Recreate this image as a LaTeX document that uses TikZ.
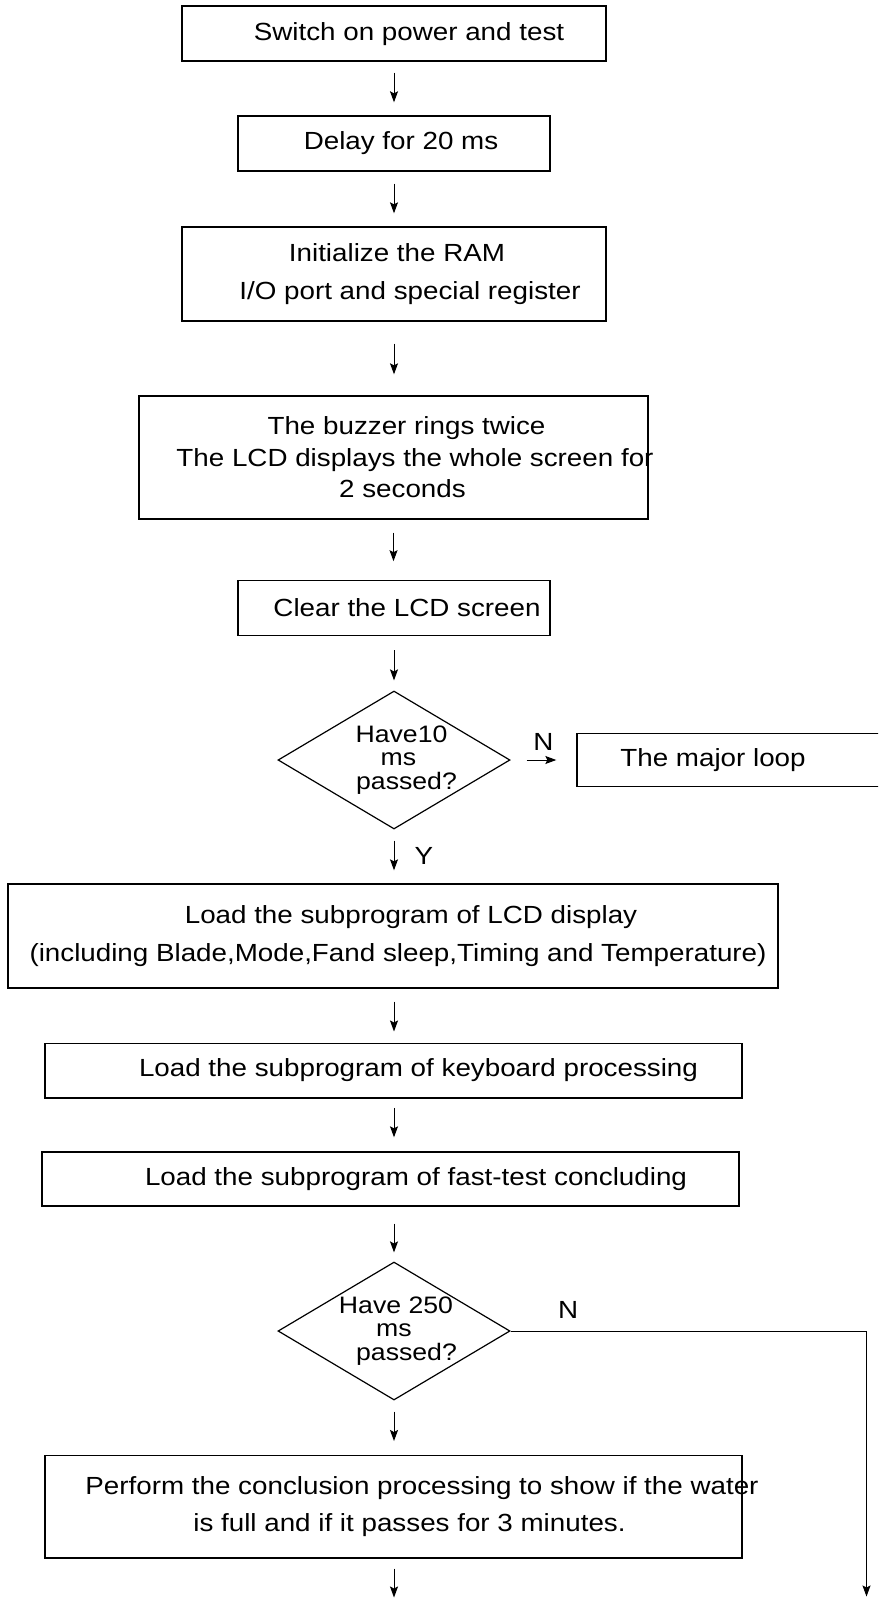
\documentclass[tikz,border=0pt]{standalone}
\usepackage{fontspec}
\setmainfont{Liberation Sans}[FakeStretch=1.12]
\usepackage{tikz}
\usetikzlibrary{arrows.meta,shapes.geometric,positioning}
\tikzstyle{box}   = [draw, line width=0.7pt, align=center, inner xsep=-10pt, inner ysep=2pt, font=\fontsize{12.4}{19}\selectfont]
\tikzstyle{dec}   = [draw, diamond, line width=0.6pt, aspect=1.68, inner sep=-2.5pt, minimum width=116pt, minimum height=69pt, align=center, font=\fontsize{11.9}{11.75}\selectfont]
\tikzstyle{arrow} = [line width=0.5pt,->,>={Stealth[length=5.5pt,width=4pt,inset=1pt]}]
\tikzstyle{lbl}   = [inner sep=0pt, font=\fontsize{12.4}{14}\selectfont]

\begin{document}
\begin{tikzpicture}[x=25pt,y=25pt]
        \useasboundingbox (0,0) rectangle (17.56,-32);
        \clip (0,0) rectangle (17.56,-32);
        \node[box, minimum width=212pt, minimum height=27.5pt] (B1) at (7.88,-0.674) {\hspace*{15pt}Switch on power and test};
        \node[box, minimum width=156pt, minimum height=27.5pt] (B2) at (7.88,-2.87) {\hspace*{7pt}Delay for 20 ms};
        \node[box, minimum width=212pt, minimum height=47pt] (B3) at (7.88,-5.48) {\hspace*{3pt}Initialize the RAM\\\hspace*{16pt}I/O port and special register};
        \node[box, minimum width=254.5pt, minimum height=61.5pt, font=\fontsize{12.4}{15.75}\selectfont] (B4) at (7.87,-9.15) {\hspace*{13pt}The buzzer rings twice\\\hspace*{21.5pt}The LCD displays the whole screen for\\\hspace*{9pt}2 seconds};
        \node[box, minimum width=156pt, minimum height=27.5pt] (B5) at (7.88,-12.16) {\hspace*{13pt}Clear the LCD screen};
        \node[dec] (D1) at (7.88,-15.2) {\hspace*{7.5pt}Have10\\\hspace*{4.5pt}ms\\\hspace*{12.5pt}passed?};
        \node[box, minimum width=161.5pt, minimum height=26.75pt] (L1) at (14.77,-15.2) {The major loop\hspace*{25.5pt}};
        \node[box, minimum width=385pt, minimum height=52pt] (B6) at (7.86,-18.72) {\hspace*{18pt}Load the subprogram of LCD display\\\hspace*{5pt}(including Blade,Mode,Fand sleep,Timing and Temperature)};
        \node[box, minimum width=348.5pt, minimum height=27.3pt] (B7) at (7.87,-21.41) {\hspace*{25pt}Load the subprogram of keyboard processing};
        \node[box, minimum width=348.5pt, minimum height=27pt] (B8) at (7.81,-23.58) {\hspace*{25.5pt}Load the subprogram of fast-test concluding};
        \node[dec] (D2) at (7.88,-26.62) {\hspace*{2pt}Have 250\\ms\\\hspace*{12.5pt}passed?};
        \node[box, minimum width=348.5pt, minimum height=51.3pt, font=\fontsize{12.4}{18.25}\selectfont] (B9) at (7.87,-30.13) {\hspace*{28.5pt}Perform the conclusion processing to show if the water\\\hspace*{16pt}is full and if it passes for 3 minutes.};
        \coordinate (E1) at (7.88,-31.95);
        \coordinate (E2) at (17.33,-31.93);
        \node[lbl, above right=6pt and 23.5pt of D2.east] (N2) {N};

        \draw[arrow, shorten <=5.35pt, shorten >=6.5pt] (B1.south) -- (B1.south |- B2.north);
        \draw[arrow, shorten <=6pt, shorten >=6.5pt] (B2.south) -- (B2.south |- B3.north);
        \draw[arrow, shorten <=11pt, shorten >=10.5pt] (B3.south) -- (B3.south |- B4.north);
        \draw[arrow, shorten <=6.5pt, shorten >=9.3pt] (B4.south) -- (B4.south |- B5.north);
        \draw[arrow, shorten <=7pt, shorten >=5pt] (B5.south) -- (D1.north);
        \draw[arrow, shorten <=8pt, shorten >=10pt] (D1.east) -- (L1.west) node[lbl, midway, above=4.5pt] {N};
        \draw[arrow, shorten <=5.5pt, shorten >=6.5pt] (D1.south) -- (D1.south |- B6.north) node[lbl, midway, right=10pt] {Y};
        \draw[arrow, shorten <=6.5pt, shorten >=5.5pt] (D1.south |- B6.south) -- (D1.south |- B7.north);
        \draw[arrow, shorten <=4.7pt, shorten >=7pt] (D1.south |- B7.south) -- (D1.south |- B8.north);
        \draw[arrow, shorten <=8.5pt, shorten >=4.5pt] (D1.south |- B8.south) -- (D2.north);
        \draw[arrow, shorten <=5.5pt, shorten >=6.75pt] (D2.south) -- (D2.south |- B9.north);
        \draw[arrow, shorten <=5pt] (D2.south |- B9.south) -- (E1);
        \draw[arrow] (D2.east) -| (E2);
\end{tikzpicture}
\end{document}
